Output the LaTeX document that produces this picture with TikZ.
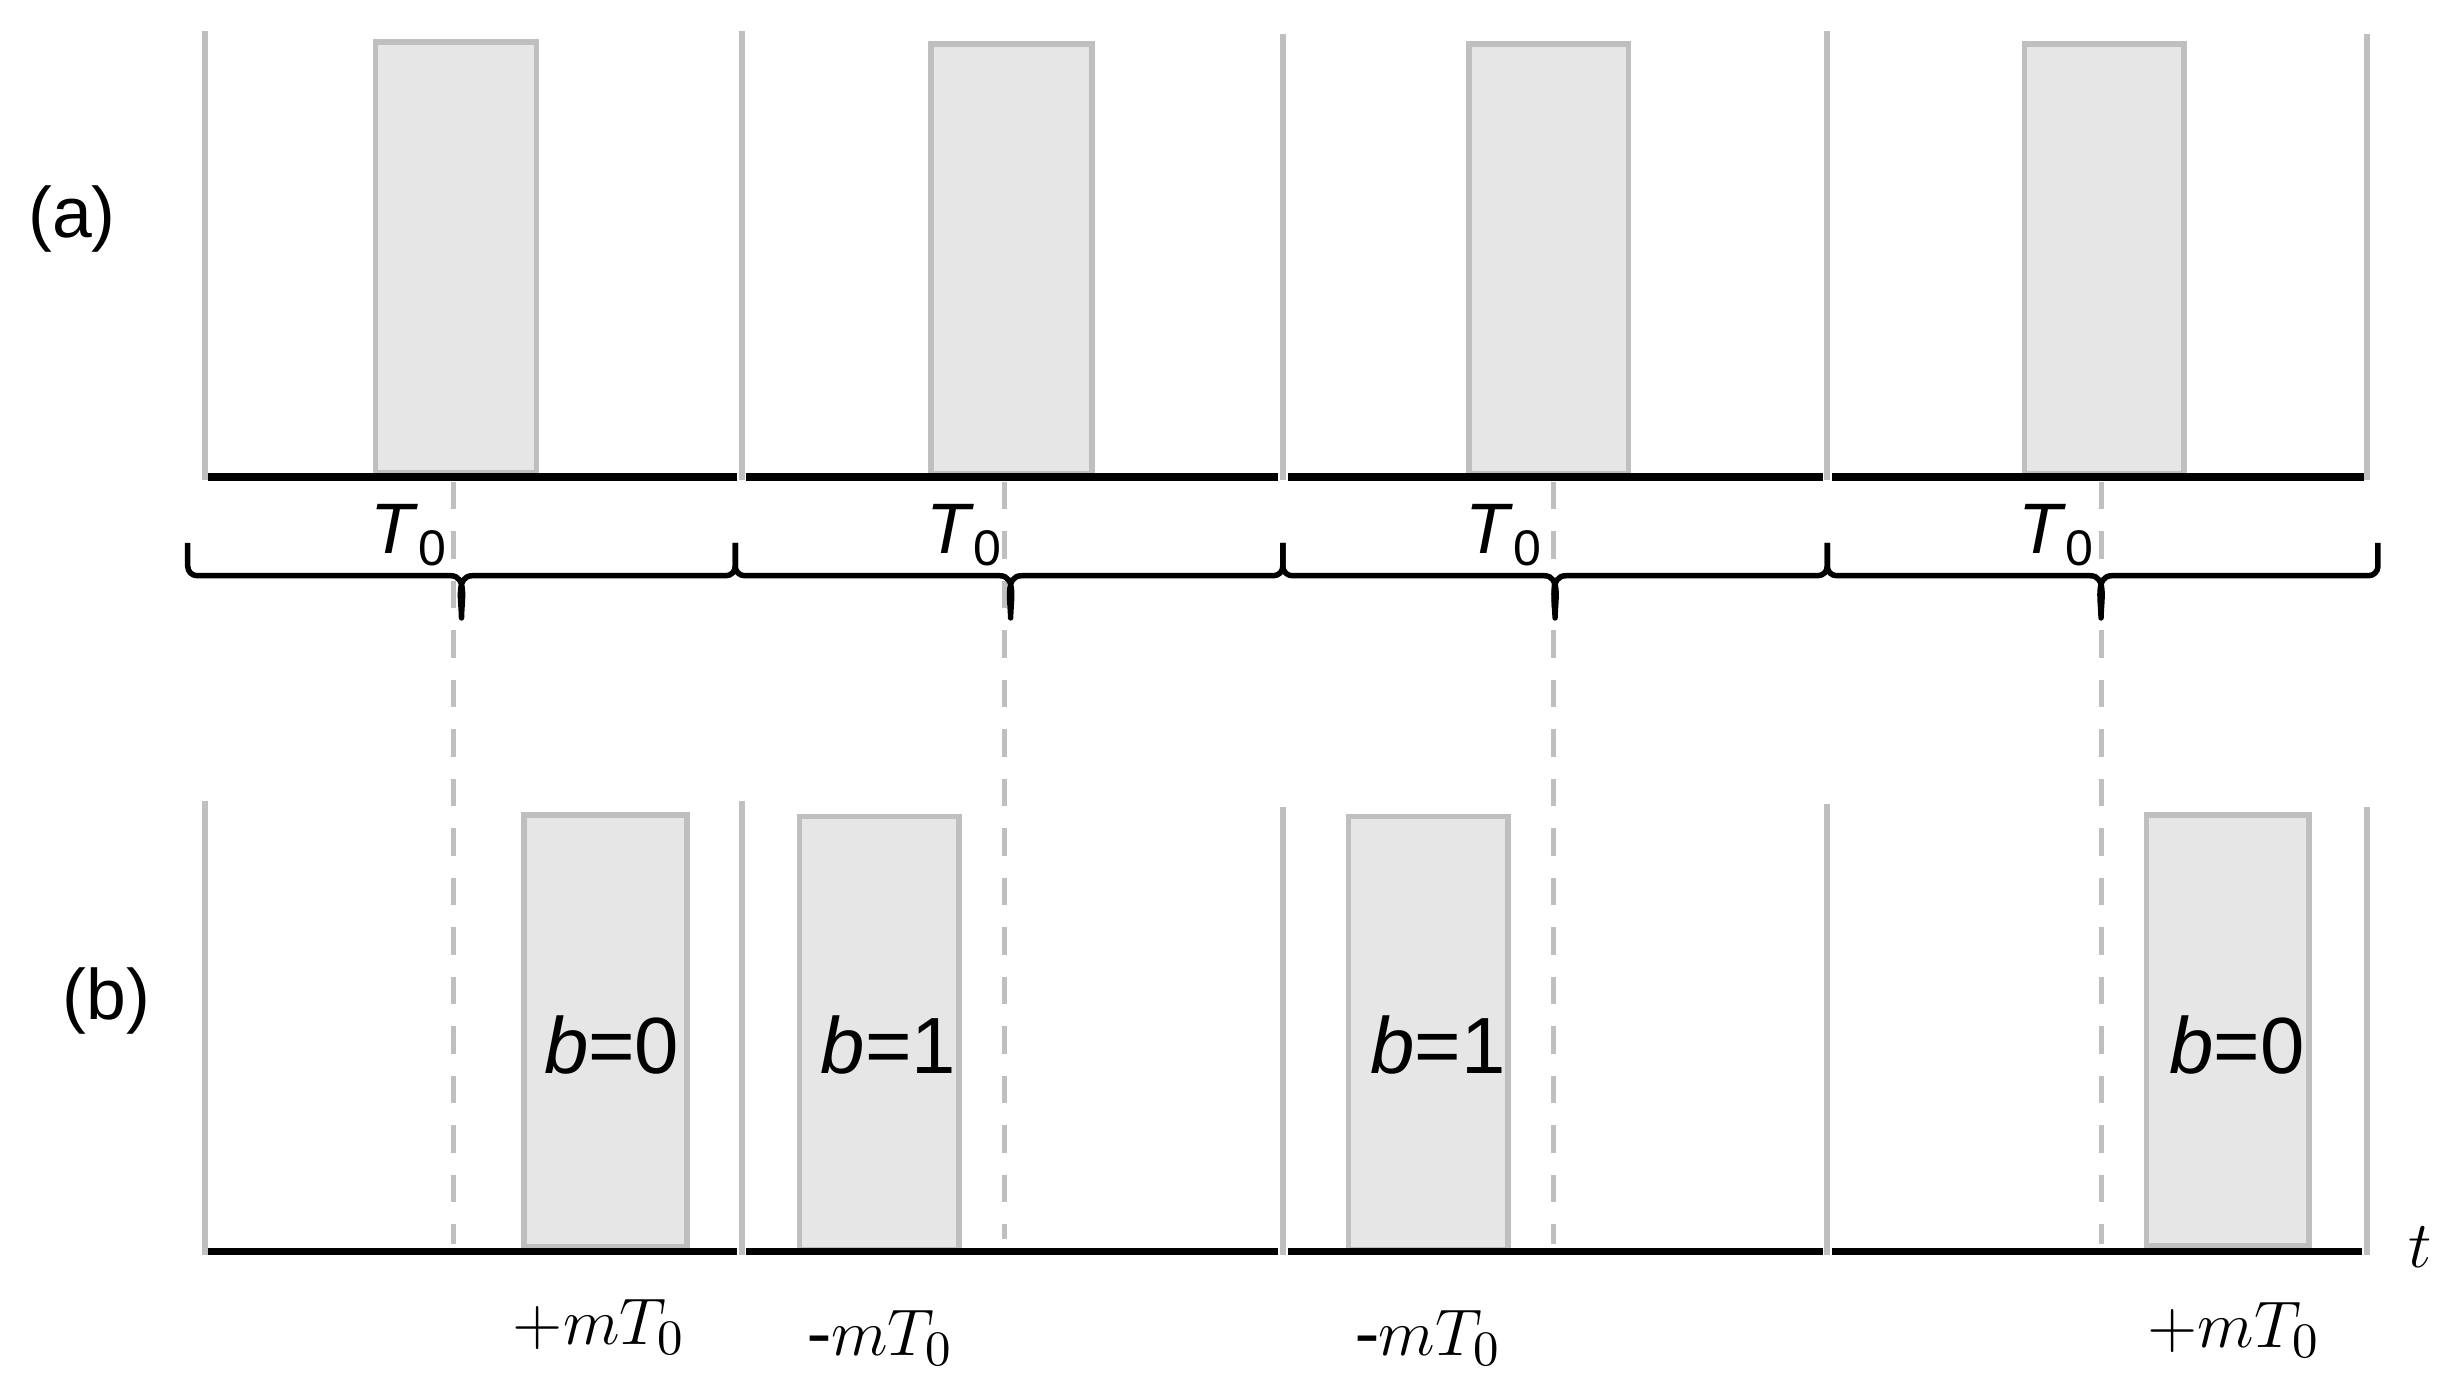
\documentclass[tikz,border=0pt]{standalone}
\usepackage{fontspec}
\setmainfont{Liberation Sans}
\newfontfamily\seriffont{Liberation Serif}
\usetikzlibrary{positioning}
\definecolor{slotgray}{HTML}{BFBFBF}
\definecolor{pulsegray}{HTML}{E6E6E6}

\begin{document}
\begin{tikzpicture}[
  slot/.style={slotgray, line width=1.1pt},
  pulse/.style={draw=slotgray, fill=pulsegray, line width=1pt},
  timeaxis/.style={black, line width=1.4pt},
  guide/.style={slotgray, line width=0.9pt, dash pattern=on 5pt off 4pt},
  curly/.style={black, line width=1pt, line join=round},
  lbl/.style={font=\fontsize{13}{15}\selectfont, inner sep=0pt},
  bitlbl/.style={font=\fontsize{14.5}{17}\selectfont, inner sep=0pt}
]
  \useasboundingbox (0,0) rectangle (15.68,-8.89);

  % (a) original slots
  \draw[pulse] (2.40,-3.02) rectangle (3.43,-0.27);
  \draw[pulse] (5.95,-3.03) rectangle (6.98,-0.28);
  \draw[pulse] (9.39,-3.03) rectangle (10.41,-0.28);
  \draw[pulse] (12.94,-3.03) rectangle (13.96,-0.28);
  \draw[timeaxis] (1.33,-3.05) -- (4.71,-3.05);
  \draw[timeaxis] (4.77,-3.05) -- (8.17,-3.05);
  \draw[timeaxis] (8.23,-3.05) -- (11.65,-3.05);
  \draw[timeaxis] (11.71,-3.05) -- (15.11,-3.05);
  \draw[slot] (1.31,-0.20) -- (1.31,-3.07);
  \draw[slot] (4.74,-0.20) -- (4.74,-3.07);
  \draw[slot] (8.20,-0.22) -- (8.20,-3.07);
  \draw[slot] (11.68,-0.20) -- (11.68,-3.07);
  \draw[slot] (15.13,-0.22) -- (15.13,-3.07);
  \node[lbl] (la) at (0.46,-1.40) {(a)};

  % guias verticales
  \draw[guide] (2.90,-3.08) -- (2.90,-7.95);
  \draw[guide] (6.42,-3.08) -- (6.42,-7.92);
  \draw[guide] (9.93,-3.08) -- (9.93,-7.95);
  \draw[guide] (13.43,-3.08) -- (13.43,-7.95);

  % llaves de periodo
  \draw[curly] (1.20,-3.47) -- (1.20,-3.62) to[out=-90,in=180] (1.26,-3.68) -- (2.88,-3.68)
    to[out=0,in=90] (2.95,-3.95) to[out=90,in=180] (3.02,-3.68) -- (4.64,-3.68)
    to[out=0,in=-90] (4.70,-3.62) -- (4.70,-3.47);
  \draw[curly] (4.70,-3.47) -- (4.70,-3.62) to[out=-90,in=180] (4.76,-3.68) -- (6.39,-3.68)
    to[out=0,in=90] (6.46,-3.95) to[out=90,in=180] (6.53,-3.68) -- (8.14,-3.68)
    to[out=0,in=-90] (8.20,-3.62) -- (8.20,-3.47);
  \draw[curly] (8.20,-3.47) -- (8.20,-3.62) to[out=-90,in=180] (8.26,-3.68) -- (9.87,-3.68)
    to[out=0,in=90] (9.94,-3.95) to[out=90,in=180] (10.01,-3.68) -- (11.62,-3.68)
    to[out=0,in=-90] (11.68,-3.62) -- (11.68,-3.47);
  \draw[curly] (11.68,-3.47) -- (11.68,-3.62) to[out=-90,in=180] (11.74,-3.68) -- (13.36,-3.68)
    to[out=0,in=90] (13.43,-3.95) to[out=90,in=180] (13.50,-3.68) -- (15.14,-3.68)
    to[out=0,in=-90] (15.20,-3.62) -- (15.20,-3.47);
  \node[lbl] (ta) at (2.62,-3.42) {\textit{T}\textsubscript{0}};
  \node[lbl] (tb) at (6.17,-3.42) {\textit{T}\textsubscript{0}};
  \node[lbl] (tc) at (9.62,-3.42) {\textit{T}\textsubscript{0}};
  \node[lbl] (td) at (13.15,-3.42) {\textit{T}\textsubscript{0}};

  % (b) slots desplazados
  \draw[pulse] (3.35,-7.97) rectangle (4.39,-5.21);
  \draw[pulse] (5.11,-7.99) rectangle (6.13,-5.22);
  \draw[pulse] (8.62,-7.99) rectangle (9.64,-5.22);
  \draw[pulse] (13.72,-7.96) rectangle (14.76,-5.21);
  \draw[timeaxis] (1.33,-8.00) -- (4.71,-8.00);
  \draw[timeaxis] (4.77,-8.00) -- (8.17,-8.00);
  \draw[timeaxis] (8.23,-8.00) -- (11.65,-8.00);
  \draw[timeaxis] (11.71,-8.00) -- (15.10,-8.00);
  \draw[slot] (1.31,-5.12) -- (1.31,-8.02);
  \draw[slot] (4.74,-5.12) -- (4.74,-8.02);
  \draw[slot] (8.20,-5.16) -- (8.20,-8.02);
  \draw[slot] (11.68,-5.14) -- (11.68,-8.02);
  \draw[slot] (15.13,-5.16) -- (15.13,-8.02);
  \node[lbl] (lb) at (0.68,-6.40) {(b)};

  \node[bitlbl] (ba) at (3.91,-6.68) {\textit{b}=0};
  \node[bitlbl] (bb) at (5.68,-6.68) {\textit{b}=1};
  \node[bitlbl] (bc) at (9.19,-6.68) {\textit{b}=1};
  \node[bitlbl] (bd) at (14.30,-6.68) {\textit{b}=0};

  \node[lbl] (sa) at (3.83,-8.48) {$+mT_0$};
  \node[lbl] (sb) at (5.63,-8.55) {{\seriffont -}$mT_0$};
  \node[lbl] (sc) at (9.13,-8.55) {{\seriffont -}$mT_0$};
  \node[lbl] (sd) at (14.28,-8.50) {$+mT_0$};
  \node[lbl] (tt) at (15.47,-7.97) {$t$};
\end{tikzpicture}
\end{document}
